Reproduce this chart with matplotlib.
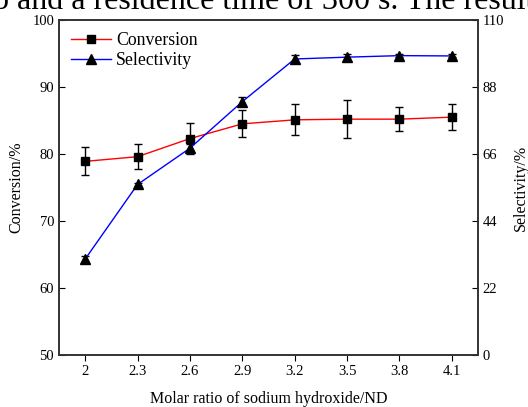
import numpy as np
import matplotlib.pyplot as plt

plt.rcParams['font.family'] = ['Liberation Serif', 'DejaVu Serif']

# Dữ liệu
ratio = [2.0, 2.3, 2.6, 2.9, 3.2, 3.5, 3.8, 4.1]
ratio_labels = ['2', '2.3', '2.6', '2.9', '3.2', '3.5', '3.8', '4.1']
conversion = [78.9, 79.6, 82.3, 84.5, 85.1, 85.2, 85.2, 85.5]
conversion_err = [2.1, 1.9, 2.3, 2.0, 2.3, 2.8, 1.8, 1.9]
selectivity = [31.5, 56.0, 67.9, 83.2, 97.2, 97.8, 98.3, 98.2]
selectivity_err = [1.0, 0.5, 1.5, 1.5, 1.2, 1.2, 0.5, 0.5]

fig = plt.figure(figsize=(5.28, 4.07), dpi=100)
ax = fig.add_axes([59 / 528, 52 / 407, 419 / 528, 335 / 407])
ax2 = ax.twinx()

ax.errorbar(ratio, conversion, yerr=conversion_err, color='red', lw=1,
            marker='s', ms=6, mfc='black', mec='black',
            ecolor='black', elinewidth=1, capsize=3, label='Conversion')
ax2.errorbar(ratio, selectivity, yerr=selectivity_err, color='blue', lw=1,
             marker='^', ms=7, mfc='black', mec='black',
             ecolor='black', elinewidth=1, capsize=3, label='Selectivity')

ax.set_xlim(1.85, 4.25)
ax.set_ylim(50, 100)
ax.set_yticks([50, 60, 70, 80, 90, 100])
ax2.set_ylim(0, 110)
ax2.set_yticks([0, 22, 44, 66, 88, 110])
ax.set_xticks(ratio)
ax.set_xticklabels(ratio_labels)

ax.tick_params(axis='y', direction='in', labelsize=10.5, length=4)
ax.tick_params(axis='x', direction='out', labelsize=10.5, length=4)
ax2.tick_params(axis='y', direction='in', labelsize=10.5, length=4)
for a in (ax, ax2):
    for s in a.spines.values():
        s.set_linewidth(1.2)
        s.set_color('#333333')

ax.set_xlabel('Molar ratio of sodium hydroxide/ND', fontsize=11.5, labelpad=9)
ax.set_ylabel('Conversion/%', fontsize=11.5, labelpad=6)
ax2.set_ylabel('Selectivity/%', fontsize=11.5, labelpad=6)

h1, l1 = ax.get_legend_handles_labels()
h2, l2 = ax2.get_legend_handles_labels()
leg = ax2.legend([h[0] for h in h1 + h2], l1 + l2, loc='upper left',
                 frameon=False, fontsize=12.8, handlelength=2.2,
                 borderaxespad=0.3, handletextpad=0.3, labelspacing=0.15)

# Dòng chữ bị cắt ở mép trên ảnh
fig.text(-7 / 528, 1 - 9 / 407, 'o and a residence time of 300 s. The result',
         fontsize=23, ha='left', va='baseline')

fig.savefig('out.png', dpi=100)
